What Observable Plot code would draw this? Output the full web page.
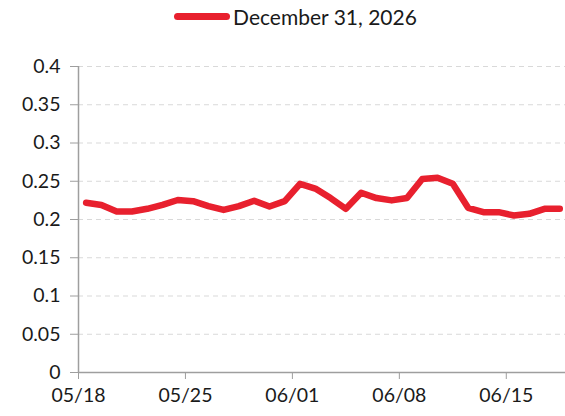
<!DOCTYPE html>
<html><head><meta charset="utf-8">
<script src="https://cdn.jsdelivr.net/npm/d3@7"></script>
<script src="https://cdn.jsdelivr.net/npm/@observablehq/plot@0.6"></script>
<style>
body{margin:0;background:#fff;font-family:Lato,"Noto Sans",sans-serif;}
#legend{height:32px;display:flex;justify-content:center;align-items:center;font-size:21px;color:#1a1a1a;padding-left:26px;}
#legend .sw{width:56px;height:7px;border-radius:4px;background:#E8202E;margin-right:3px;}
</style></head>
<body>
<div id="legend"><div class="sw"></div><span>December 31, 2026</span></div>
<div id="chart"></div>
<script>
const seriesName = "December 31, 2026";
const startDate = "2026-05-18";
const days = d3.range(32).map(i => d3.utcDay.offset(new Date(startDate + "T12:00:00Z"), i));
const values = [0.222, 0.219, 0.2105, 0.2105, 0.214, 0.219, 0.2255, 0.224, 0.2175, 0.2125, 0.2175, 0.2245, 0.217, 0.224, 0.2466, 0.2405, 0.228, 0.214, 0.235, 0.228, 0.225, 0.228, 0.253, 0.2545, 0.2466, 0.2153, 0.2096, 0.2096, 0.2052, 0.2074, 0.214, 0.214];
const yTicks = [0, 0.05, 0.1, 0.15, 0.2, 0.25, 0.3, 0.35, 0.4];
const xTicks = ["2026-05-18", "2026-05-25", "2026-06-01", "2026-06-08", "2026-06-15"].map(s => new Date(s + "T00:00:00Z"));
const xDomain = [new Date("2026-05-18T00:00:00Z"), new Date("2026-06-18T21:00:00Z")];

const data = days.map((d, i) => ({date: d, value: values[i]}));

const chart = Plot.plot({
  width: 565, height: 384,
  marginLeft: 78, marginRight: 0, marginTop: 34, marginBottom: 44,
  style: {fontFamily: "Lato, 'Noto Sans', sans-serif", fontSize: "19.5px", color: "#1a1a1a", background: "#fff"},
  x: {type: "utc", domain: xDomain},
  y: {domain: [0, 0.4]},
  marks: [
    Plot.ruleY(yTicks.filter(d => d > 0), {stroke: "#d9d9d9", strokeDasharray: "5,4", strokeWidth: 1}),
    Plot.ruleX([xDomain[0]], {stroke: "#9e9e9e", strokeWidth: 1.5}),
    Plot.ruleY([0], {stroke: "#9e9e9e", strokeWidth: 1.5}),
    Plot.axisY({ticks: yTicks, tickSize: 8, tickPadding: 10, stroke: "#9e9e9e", tickFormat: d => String(+d.toFixed(2)), label: null, fill: "#1a1a1a"}),
    Plot.axisX({ticks: xTicks, tickSize: 7, tickPadding: 9, stroke: "#9e9e9e", tickFormat: d3.utcFormat("%m/%d"), label: null, fill: "#1a1a1a"}),
    Plot.line(data, {x: "date", y: "value", stroke: "#E8202E", strokeWidth: 6.5, strokeLinejoin: "round", strokeLinecap: "round"})
  ]
});
document.getElementById("chart").appendChild(chart);
</script>
</body></html>
